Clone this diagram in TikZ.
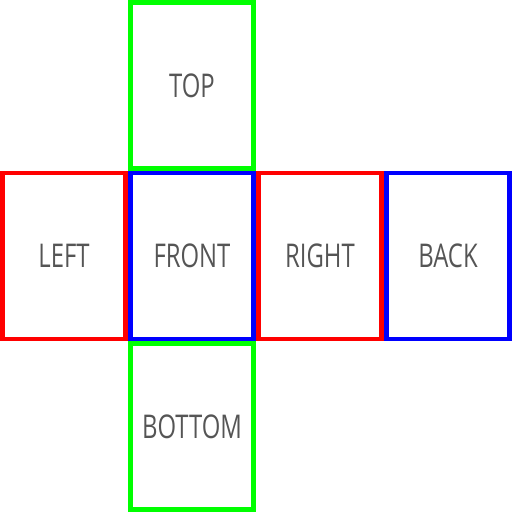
\documentclass[tikz,border=0pt]{standalone}
\usepackage{fontspec}
\setmainfont{Open Sans}
\usepackage{graphicx}
\definecolor{kgray}{RGB}{85,85,85}
\newcommand{\kfc}[1]{\scalebox{0.73}[1]{#1}}
\begin{document}
\begin{tikzpicture}[x=0.01cm,y=0.01cm]
\pgfmathsetmacro{\kw}{128}
\pgfmathsetmacro{\kh}{512/3}
\pgfmathsetmacro{\klw}{4.8}
\tikzset{face/.style={draw,line width=\klw*0.01cm,inner sep=0pt,minimum width=(\kw-\klw)*0.01cm,minimum height=(\kh-\klw)*0.01cm,text=kgray,font=\fontsize{9.3}{10}\selectfont}}
\useasboundingbox(0,0)rectangle(4*\kw,3*\kh);
\foreach \kx/\kc/\nm/\lb in {0/red/left/LEFT,1/blue/front/FRONT,2/red/right/RIGHT,3/blue/back/BACK}{\node[face,draw=\kc](\nm)at(\kx*\kw+\kw/2,1.5*\kh){\kfc{\lb}};}
\node[face,draw=green](top)at(1.5*\kw,2.5*\kh){\kfc{TOP}};
\node[face,draw=green](bottom)at(1.5*\kw,0.5*\kh){\kfc{BOTTOM}};
\end{tikzpicture}
\end{document}
